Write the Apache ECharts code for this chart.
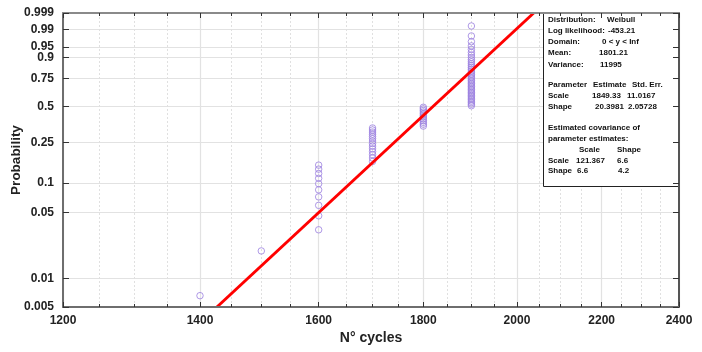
<!DOCTYPE html>
<html><head><meta charset="utf-8">
<script src="https://cdn.jsdelivr.net/npm/echarts@6/dist/echarts.min.js"></script>
<style>html,body{margin:0;padding:0;background:#fff}#c{width:702px;height:352px}</style>
</head><body><div id="c"></div>
<script>
// ---- data ----
const xTickValues = [1200, 1400, 1600, 1800, 2000, 2200, 2400];
const xMinorValues = [1250, 1300, 1350, 1450, 1500, 1550, 1650, 1700, 1750, 1850, 1900, 1950, 2050, 2100, 2150, 2250, 2300, 2350];
const yTickLabels = ['0.005', '0.01', '0.05', '0.1', '0.25', '0.5', '0.75', '0.9', '0.95', '0.99', '0.999'];
const cycleGroups = [1400, 1500, 1600, 1700, 1800, 1900];
const prob1400 = [0.0066];
const prob1500 = [0.0197];
const prob1600 = [0.0329, 0.0461, 0.0592, 0.0724, 0.0855, 0.0987, 0.1118, 0.1250, 0.1382, 0.1513];
const prob1700 = [0.1645, 0.1776, 0.1908, 0.2039, 0.2171, 0.2303, 0.2434, 0.2566, 0.2697, 0.2829, 0.2961, 0.3092, 0.3224, 0.3355];
const prob1800 = [0.3487, 0.3618, 0.3750, 0.3882, 0.4013, 0.4145, 0.4276, 0.4408, 0.4539, 0.4671, 0.4803, 0.4934];
const prob1900 = [0.5066, 0.5197, 0.5329, 0.5461, 0.5592, 0.5724, 0.5855, 0.5987, 0.6118, 0.6250, 0.6382, 0.6513,
  0.6645, 0.6776, 0.6908, 0.7039, 0.7171, 0.7303, 0.7434, 0.7566, 0.7697, 0.7829, 0.7961, 0.8092, 0.8224, 0.8355,
  0.8487, 0.8618, 0.8750, 0.8882, 0.9013, 0.9145, 0.9276, 0.9408, 0.9539, 0.9671, 0.9803, 0.9934];
const groupProbs = [prob1400, prob1500, prob1600, prob1700, prob1800, prob1900];
const fitCycles = [1427, 2038];
const fitProbs = [0.005, 0.999];
const infoRows = [
  [20, [[548, 'Distribution:'], [607, 'Weibull']]],
  [31, [[548, 'Log likelihood:'], [608, '-453.21']]],
  [42, [[548, 'Domain:'], [602, '0 < y < Inf']]],
  [53, [[548, 'Mean:'], [599, '1801.21']]],
  [64.5, [[548, 'Variance:'], [600, '11995']]],
  [85, [[548, 'Parameter'], [593, 'Estimate'], [632, 'Std. Err.']]],
  [96, [[548, 'Scale'], [592, '1849.33'], [627, '11.0167']]],
  [107, [[548, 'Shape'], [595, '20.3981'], [628, '2.05728']]],
  [127.5, [[548, 'Estimated covariance of']]],
  [138.5, [[548, 'parameter estimates:']]],
  [149.5, [[579, 'Scale'], [617, 'Shape']]],
  [160.5, [[548, 'Scale'], [576, '121.367'], [617, '6.6']]],
  [171, [[548, 'Shape'], [577, '6.6'], [618, '4.2']]]
];

// ---- scale transforms (Weibull probability paper) ----
const tx = v => Math.log(v);
const ty = p => Math.log(-Math.log(1 - p));
const xMin = tx(1200), xMax = tx(2400);
const yMin = ty(0.005), yMax = ty(0.999);
const yTickVals = yTickLabels.map(s => ty(parseFloat(s)));
const xTickVals = xTickValues.map(tx);
const xMinorVals = xMinorValues.map(tx);

const points = [];
cycleGroups.forEach((c, i) => groupProbs[i].forEach(p => points.push([tx(c), ty(p)])));
const fitData = fitCycles.map((c, i) => [tx(c), ty(fitProbs[i])]);

function yLabel(v) {
  let best = 0, bd = Infinity;
  yTickVals.forEach((t, i) => { const d = Math.abs(t - v); if (d < bd) { bd = d; best = i; } });
  return yTickLabels[best];
}
function xLabel(v) { return String(Math.round(Math.exp(v))); }

const FONT = 'Liberation Sans, Arial, sans-serif';
const axisCol = '#6e6e6e';
const off = { show: false };

function xAx(opts) {
  const o = Object.assign({
    type: 'value', min: xMin, max: xMax, position: 'bottom',
    axisLine: { show: false }, axisTick: off, axisLabel: off, splitLine: off, z: 10
  }, opts);
  o.axisLine = Object.assign({}, o.axisLine, { onZero: false });
  return o;
}
function yAx(opts) {
  const o = Object.assign({
    type: 'value', min: yMin, max: yMax, position: 'left',
    axisLine: { show: false }, axisTick: off, axisLabel: off, splitLine: off, z: 10
  }, opts);
  o.axisLine = Object.assign({}, o.axisLine, { onZero: false });
  return o;
}

const graphicEls = [{
  type: 'rect', z: 5, shape: { x: 543.5, y: 12.5, width: 135, height: 174 },
  style: { fill: '#fff', stroke: '#222', lineWidth: 1 }
}];
infoRows.forEach(([y, segs]) => segs.forEach(([x, t]) => graphicEls.push({
  type: 'text', z: 6, x: x, y: y,
  style: { text: t, fill: '#111', font: 'bold 8px ' + FONT, textVerticalAlign: 'middle', textAlign: 'left' }
})));

const chart = echarts.init(document.getElementById('c'), null, { renderer: 'canvas' });
chart.setOption({
  animation: false,
  backgroundColor: '#fff',
  grid: { left: 63, right: 23, top: 13, bottom: 45, containLabel: false, outerBoundsMode: 'none' },
  xAxis: [
    xAx({
      axisLine: { show: true, lineStyle: { color: axisCol, width: 2 } },
      axisTick: { show: true, inside: true, length: 5, customValues: xTickVals, lineStyle: { color: '#333', width: 1 } },
      axisLabel: { show: true, customValues: xTickVals, formatter: xLabel, margin: 8, color: '#222', fontWeight: 'bold', fontSize: 12, fontFamily: FONT, hideOverlap: false },
      name: 'N° cycles', nameLocation: 'middle', nameGap: 24, nameMoveOverlap: false,
      nameTextStyle: { color: '#222', fontWeight: 'bold', fontSize: 14, fontFamily: FONT }
    }),
    xAx({ axisTick: { show: true, inside: true, length: 3, customValues: xMinorVals, lineStyle: { color: '#333', width: 1 } } }),
    xAx({
      position: 'top',
      axisLine: { show: true, lineStyle: { color: '#8a8a8a', width: 2 } },
      axisTick: { show: true, inside: true, length: 5, customValues: xTickVals, lineStyle: { color: '#333', width: 1 } }
    }),
    xAx({ position: 'top', axisTick: { show: true, inside: true, length: 3, customValues: xMinorVals, lineStyle: { color: '#333', width: 1 } } }),
    xAx({ z: 0, axisTick: { show: false, customValues: xTickVals }, splitLine: { show: true, lineStyle: { color: '#e2e2e2', width: 1.2, type: 'solid' } } }),
    xAx({ z: 0, axisTick: { show: false, customValues: xMinorVals }, splitLine: { show: true, lineStyle: { color: '#e0e0e0', width: 1, type: [2, 2] } } })
  ],
  yAxis: [
    yAx({
      axisLine: { show: true, lineStyle: { color: axisCol, width: 2 } },
      axisTick: { show: true, inside: true, length: 6, customValues: yTickVals, lineStyle: { color: '#333', width: 1 } },
      axisLabel: { show: true, customValues: yTickVals, formatter: yLabel, margin: 9, color: '#222', fontWeight: 'bold', fontSize: 12, fontFamily: FONT, hideOverlap: false },
      name: 'Probability', nameLocation: 'middle', nameGap: 40, nameRotate: 90, nameMoveOverlap: false,
      nameTextStyle: { color: '#222', fontWeight: 'bold', fontSize: 13.5, fontFamily: FONT }
    }),
    yAx({
      position: 'right',
      axisLine: { show: true, lineStyle: { color: '#555', width: 2 } },
      axisTick: { show: true, inside: true, length: 6, customValues: yTickVals, lineStyle: { color: '#333', width: 1 } }
    }),
    yAx({ z: 0, axisTick: { show: false, customValues: yTickVals }, splitLine: { show: true, lineStyle: { color: '#e2e2e2', width: 1.2 } } })
  ],
  series: [
    {
      type: 'scatter', xAxisIndex: 0, yAxisIndex: 0, data: points, symbol: 'circle', symbolSize: 6.5,
      itemStyle: { color: 'rgba(0,0,0,0)', borderColor: '#9b7fe0', borderWidth: 1 }, z: 3, silent: true
    },
    {
      type: 'line', xAxisIndex: 0, yAxisIndex: 0, data: fitData, showSymbol: false, symbol: 'none',
      lineStyle: { color: '#ff0000', width: 3 }, z: 4, silent: true, clip: true
    }
  ],
  graphic: { elements: graphicEls }
});
</script></body></html>
